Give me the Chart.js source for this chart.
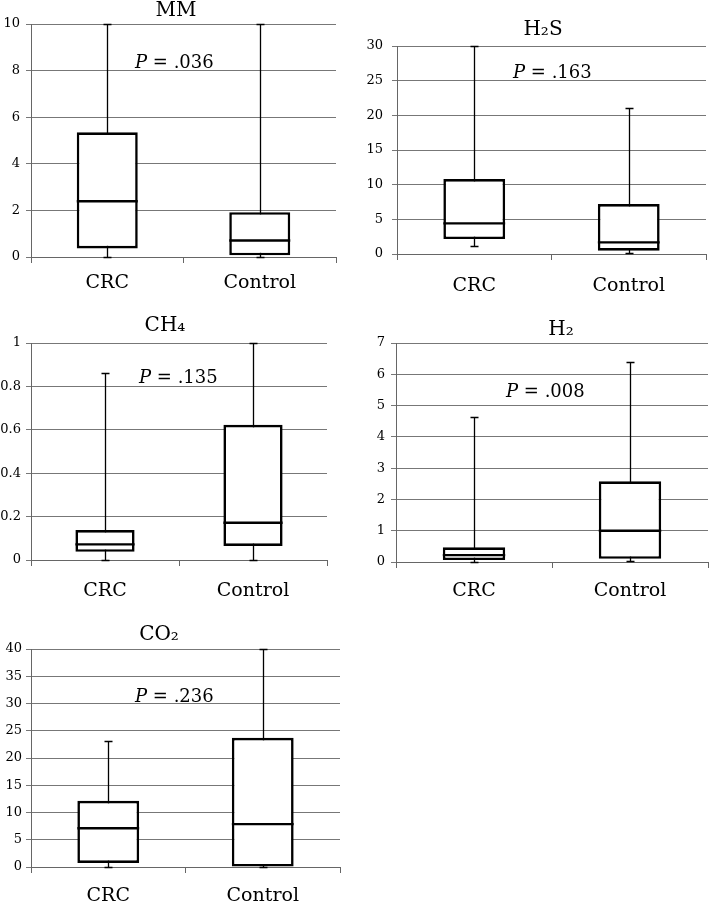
<!DOCTYPE html>
<html><head><meta charset="utf-8">
<script src="https://cdn.jsdelivr.net/npm/chart.js@4/dist/chart.umd.min.js"></script>
<style>
html,body{margin:0;padding:0;background:#fff;}
body{width:709px;height:902px;position:relative;overflow:hidden;}
canvas{position:absolute;}
</style></head><body>
<canvas id="c1"></canvas><canvas id="c2"></canvas><canvas id="c3"></canvas><canvas id="c4"></canvas><canvas id="c5"></canvas>
<script>
// ---- data ----
const categories = ['CRC', 'Control'];

const mmMin = [0, 0], mmQ1 = [0.37, 0.07], mmMedian = [2.39, 0.71], mmQ3 = [5.35, 1.92], mmMax = [10, 10];
const mmTicks = [0, 2, 4, 6, 8, 10];
const mmP = '.036';

const h2sMin = [1.1, 0.2], h2sQ1 = [2.16, 0.48], h2sMedian = [4.42, 1.68], h2sQ3 = [10.8, 7.2], h2sMax = [30, 21];
const h2sTicks = [0, 5, 10, 15, 20, 25, 30];
const h2sP = '.163';

const ch4Min = [0, 0], ch4Q1 = [0.038, 0.065], ch4Median = [0.072, 0.172], ch4Q3 = [0.138, 0.623], ch4Max = [0.864, 1];
const ch4Ticks = [0, 0.2, 0.4, 0.6, 0.8, 1];
const ch4P = '.135';

const h2Min = [0, 0.03], h2Q1 = [0.06, 0.1], h2Median = [0.22, 1.0], h2Q3 = [0.47, 2.58], h2Max = [4.63, 6.39];
const h2Ticks = [0, 1, 2, 3, 4, 5, 6, 7];
const h2P = '.008';

const co2Min = [0, 0], co2Q1 = [0.74, 0], co2Median = [7.12, 7.86], co2Q3 = [12.15, 23.7], co2Max = [23.2, 40];
const co2Ticks = [0, 5, 10, 15, 20, 25, 30, 35, 40];
const co2P = '.236';

// ---- rendering ----
const FONT = 'DejaVu Serif';
const GRID = '#777777';
const AXIS = '#666666';

function makePanel(id, p) {
  const cv = document.getElementById(id);
  cv.width = p.cw; cv.height = p.ch;
  cv.style.left = p.cl + 'px'; cv.style.top = p.ct + 'px';
  const boxes = categories.map((c, i) => [p.q1[i], p.q3[i]]);

  const boxPlugin = {
    id: 'boxplot_' + id,
    beforeDatasetsDraw(chart) {
      const y = chart.scales.y, ctx = chart.ctx, meta = chart.getDatasetMeta(0);
      ctx.save();
      ctx.strokeStyle = '#000'; ctx.lineWidth = 1.3;
      meta.data.forEach((bar, i) => {
        const x = Math.round(bar.x) + 0.5;
        const y0 = Math.round(y.getPixelForValue(p.min[i])) + 0.5;
        const y1 = Math.round(y.getPixelForValue(p.max[i])) + 0.5;
        ctx.beginPath();
        ctx.moveTo(x, y0); ctx.lineTo(x, y1);
        ctx.moveTo(x - 4, y0); ctx.lineTo(x + 4, y0);
        ctx.moveTo(x - 4, y1); ctx.lineTo(x + 4, y1);
        ctx.stroke();
      });
      ctx.restore();
    },
    afterDatasetsDraw(chart) {
      const y = chart.scales.y, ctx = chart.ctx, meta = chart.getDatasetMeta(0);
      ctx.save();
      ctx.strokeStyle = '#000'; ctx.lineWidth = 2.4;
      meta.data.forEach((bar, i) => {
        const ym = y.getPixelForValue(p.median[i]);
        ctx.beginPath();
        ctx.moveTo(bar.x - bar.width / 2, ym); ctx.lineTo(bar.x + bar.width / 2, ym);
        ctx.stroke();
      });
      ctx.restore();
    },
    afterDraw(chart) {
      const ctx = chart.ctx;
      ctx.save();
      ctx.fillStyle = '#000';
      ctx.textBaseline = 'alphabetic';
      ctx.textAlign = 'center';
      ctx.font = '20px "' + FONT + '"';
      ctx.fillText(p.title, p.tx - p.cl, p.ty - p.ct);
      ctx.textAlign = 'left';
      ctx.font = 'italic 18px "' + FONT + '"';
      const px = p.px - p.cl, py = p.py - p.ct;
      ctx.fillText('P', px, py);
      const w = ctx.measureText('P').width;
      ctx.font = '18px "' + FONT + '"';
      ctx.fillText(' = ' + p.pval, px + w, py);
      ctx.restore();
    }
  };

  new Chart(cv, {
    type: 'bar',
    data: {
      labels: categories,
      datasets: [{
        data: boxes, backgroundColor: '#ffffff', borderColor: '#000000', borderWidth: 2.6,
        borderSkipped: false, barPercentage: 0.4, categoryPercentage: 1
      }]
    },
    options: {
      responsive: false, animation: false, devicePixelRatio: 1,
      layout: { padding: { left: 0, top: p.T - p.ct, right: p.cl + p.cw - p.R, bottom: 0 } },
      plugins: { legend: { display: false }, tooltip: { enabled: false }, title: { display: false } },
      scales: {
        x: {
          offset: true,
          grid: { offset: true, drawOnChartArea: false, drawTicks: true, tickLength: 6, color: AXIS },
          border: { color: AXIS, width: 1 },
          ticks: { font: { family: FONT, size: 19 }, color: '#000', padding: p.xPad, maxRotation: 0 },
          afterFit: s => { s.height = p.ct + p.ch - p.B; }
        },
        y: {
          min: 0, max: p.ticks[p.ticks.length - 1],
          afterBuildTicks: s => { s.ticks = p.ticks.map(v => ({ value: v })); },
          grid: { color: GRID, tickLength: 5 },
          border: { color: AXIS, width: 1 },
          ticks: { font: { family: FONT, size: 13 }, color: '#000', padding: p.yPad, callback: v => String(+Number(v).toFixed(2)) },
          afterFit: s => { s.width = p.L - p.cl; }
        }
      }
    },
    plugins: [boxPlugin]
  });
}

makePanel('c1', { cl: 0, ct: 0, cw: 345, ch: 300, L: 31, R: 336, T: 24, B: 257, xPad: 9, yPad: 6,
  title: 'MM', tx: 176, ty: 16, px: 135, py: 68, pval: mmP,
  min: mmMin, q1: mmQ1, median: mmMedian, q3: mmQ3, max: mmMax, ticks: mmTicks });
makePanel('c2', { cl: 355, ct: 0, cw: 354, ch: 300, L: 397, R: 706, T: 46, B: 254, xPad: 15, yPad: 9,
  title: 'H₂S', tx: 543, ty: 35, px: 513, py: 78, pval: h2sP,
  min: h2sMin, q1: h2sQ1, median: h2sMedian, q3: h2sQ3, max: h2sMax, ticks: h2sTicks });
makePanel('c3', { cl: 0, ct: 300, cw: 345, ch: 305, L: 31, R: 327, T: 343, B: 560, xPad: 14, yPad: 5,
  title: 'CH₄', tx: 165, ty: 331, px: 139, py: 383, pval: ch4P,
  min: ch4Min, q1: ch4Q1, median: ch4Median, q3: ch4Q3, max: ch4Max, ticks: ch4Ticks });
makePanel('c4', { cl: 355, ct: 300, cw: 354, ch: 305, L: 396, R: 708, T: 343, B: 562, xPad: 12, yPad: 6,
  title: 'H₂', tx: 561, ty: 335, px: 506, py: 397, pval: h2P,
  min: h2Min, q1: h2Q1, median: h2Median, q3: h2Q3, max: h2Max, ticks: h2Ticks });
makePanel('c5', { cl: 0, ct: 605, cw: 345, ch: 297, L: 31, R: 340, T: 649, B: 867, xPad: 12, yPad: 4,
  title: 'CO₂', tx: 159, ty: 640, px: 135, py: 702, pval: co2P,
  min: co2Min, q1: co2Q1, median: co2Median, q3: co2Q3, max: co2Max, ticks: co2Ticks });
</script>
</body></html>
